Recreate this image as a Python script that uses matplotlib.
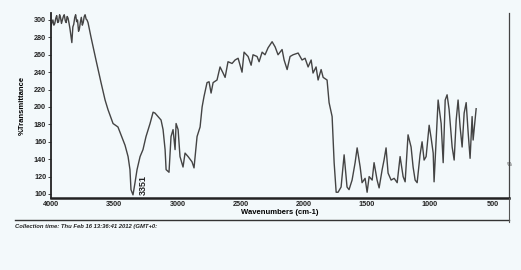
import matplotlib
matplotlib.use("Agg")
import matplotlib.pyplot as plt
from matplotlib.lines import Line2D

# ---- data ----
wavenumber = [4000, 3992, 3985, 3977, 3970, 3962, 3955, 3947, 3940, 3932, 3925, 3917,
              3910, 3902, 3895, 3887, 3880, 3872, 3865, 3857, 3850, 3842, 3835, 3827,
              3820, 3812, 3805, 3797, 3790, 3782, 3775, 3767, 3760, 3752, 3745, 3737,
              3730, 3722, 3715, 3707, 3683, 3644, 3604,
              3572, 3549, 3509, 3470, 3446, 3414, 3390, 3375, 3367, 3351, 3335, 3319,
              3295, 3272, 3248, 3216, 3192, 3177, 3153, 3129, 3113, 3097, 3089, 3066,
              3050, 3034, 3018, 3010, 2994, 2979, 2955, 2939, 2915, 2884, 2868, 2844,
              2820, 2804, 2789, 2765, 2749, 2733, 2717, 2686, 2662, 2638, 2622, 2599,
              2567, 2543, 2519, 2488, 2472, 2440, 2416, 2401, 2369, 2353, 2329, 2306,
              2282, 2250, 2226, 2203, 2171, 2155, 2131, 2108, 2084, 2044, 2013, 1989,
              1965, 1941, 1926, 1902, 1886, 1862, 1846, 1815, 1799, 1775, 1759, 1743,
              1728, 1704, 1680, 1657, 1641, 1617, 1593, 1577, 1553, 1538, 1514, 1498,
              1482, 1458, 1443, 1419, 1403, 1379, 1364, 1348, 1332, 1308, 1284, 1260,
              1237, 1213, 1197, 1174, 1150, 1134, 1118, 1102, 1079, 1063, 1047, 1031,
              1007, 991, 975, 968, 952, 936, 912, 896, 880, 865, 849, 825, 809, 793,
              778, 762, 746, 730, 714, 698, 683, 667, 659, 635]
transmittance = [293, 297, 300, 294, 296, 302, 305, 297, 298, 306, 303, 296,
                 300, 304, 306, 299, 297, 304, 302, 296, 290, 281, 274, 292,
                 295, 303, 306, 298, 300, 287, 290, 298, 303, 294, 297, 304,
                 306, 301, 300, 297, 280, 254, 228,
                 208, 197, 181, 177, 168, 156, 143, 128, 105, 99, 113, 128,
                 143, 151, 166, 181, 194, 193, 189, 185, 174, 151, 128, 125,
                 166, 174, 151, 181, 174, 143, 131, 147, 143, 137, 130, 166,
                 177, 200, 212, 228, 229, 216, 228, 231, 246, 239, 234, 252,
                 250, 254, 256, 240, 263, 258, 248, 260, 258, 252, 263, 260,
                 268, 275, 269, 260, 266, 254, 243, 258, 260, 262, 254, 256,
                 246, 254, 239, 246, 231, 243, 234, 231, 205, 189, 136, 102,
                 102, 108, 145, 108, 105, 116, 136, 153, 131, 113, 118, 102,
                 120, 116, 136, 116, 107, 128, 139, 153, 124, 116, 118, 113,
                 143, 120, 114, 168, 154, 131, 116, 113, 145, 160, 139, 143,
                 179, 164, 147, 114, 162, 208, 181, 136, 208, 214, 197, 154, 139, 185,
                 208, 177, 154, 193, 205, 170, 141, 189, 162, 198]

x_ticks = [4000, 3500, 3000, 2500, 2000, 1500, 1000, 500]
y_ticks = [100, 120, 140, 160, 180, 200, 220, 240, 260, 280, 300]
peak_label = "3351"

bg = "#f3f9fb"
W, H = 521, 270
fig = plt.figure(figsize=(W / 100, H / 100), dpi=100, facecolor=bg)

left, right, bottom, top = 51, 509, 198, 13
ax = fig.add_axes([left / W, 1 - bottom / H, (right - left) / W, (bottom - top) / H])
ax.set_facecolor(bg)

ax.plot(wavenumber, transmittance, color="#444444", lw=1.0, clip_on=True)

ax.set_xlim(4000, 375)
ax.set_ylim(95.4, 308)
ax.set_xticks(x_ticks)
ax.set_yticks(y_ticks)
fp = dict(family="Liberation Sans", weight="bold", size=5.2)
ax.set_xticklabels([str(t) for t in x_ticks], **fp)
ax.set_yticklabels([str(t) for t in y_ticks], **fp)
ax.tick_params(axis="both", length=2, width=0.6, pad=1.5, colors="#222222")
ax.tick_params(axis="x", length=0, pad=2)

ax.spines["top"].set_visible(False)
ax.spines["left"].set_linewidth(1.3)
ax.spines["left"].set_color("#222222")
ax.spines["bottom"].set_linewidth(1.8)
ax.spines["bottom"].set_color("#222222")
ax.spines["right"].set_linewidth(0.9)
ax.spines["right"].set_color("#444444")

ax.set_xlabel("Wavenumbers (cm-1)", family="Liberation Sans", weight="bold", size=5.5,
              labelpad=1)
ax.set_ylabel("%Transmittance", family="Liberation Sans", weight="bold", size=5.5,
              labelpad=6)

ax.text(3272, 99, peak_label, rotation=90, ha="center", va="bottom",
        family="Liberation Sans", weight="bold", size=6.5, color="#222222")

# footer rule and collection time text
fig.add_artist(Line2D([15 / W, 509 / W], [1 - 220 / H, 1 - 220 / H],
                      color="#333333", lw=1.0))
fig.add_artist(Line2D([509 / W, 509 / W], [1 - 198 / H, 1 - 222 / H],
                      color="#555555", lw=0.8))
fig.text(15 / W, 1 - 226.5 / H, "Collection time: Thu Feb 16 13:36:41 2012 (GMT+0:",
         family="Liberation Sans", weight="bold", style="italic", size=4.2,
         va="center", ha="left", color="#222222")
fig.text(509 / W, 1 - 165 / H, "%", family="Liberation Sans", size=4, color="#444444",
         ha="center", va="center")

fig.savefig("out.png", dpi=100, facecolor=bg)
